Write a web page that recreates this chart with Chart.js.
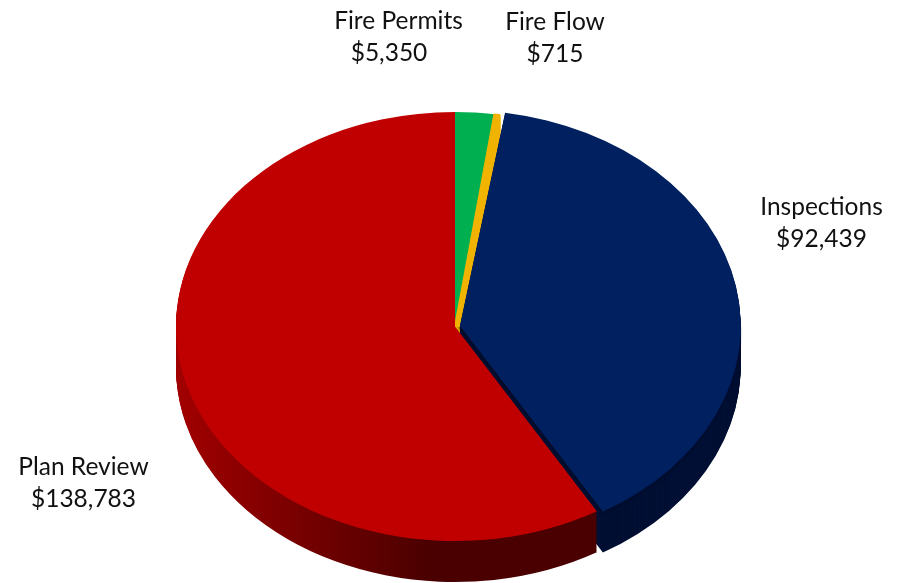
<!DOCTYPE html>
<html>
<head>
<meta charset="utf-8">
<style>
  html, body { margin: 0; padding: 0; background: #fff; }
  canvas { display: block; }
</style>
<script src="https://cdn.jsdelivr.net/npm/chart.js@4/dist/chart.umd.js"></script>
</head>
<body>
<canvas id="chart" width="901" height="583"></canvas>
<script>
const categories = ['Fire Permits', 'Fire Flow', 'Inspections', 'Plan Review'];
const amounts = [5350, 715, 92439, 138783];

const faceColors = ['#00B050', '#F0B400', '#002060', '#C00000'];
const sideColors = ['#006A30', '#8A6600', '#000F33', '#4A0000'];

// the pie is drawn round by Chart.js and squashed here to look tilted
const CENTER_Y = 326.5;
const RADIUS = 279;
const SQUASH = 214.5 / 279;
const DEPTH = 41;
const INSPECTIONS = 2;
const PLAN_REVIEW = 3;

// x centre of each line, y of first baseline, extra x for the second line
const labelPlaces = [
  { x: 398.5, y: 29, shift: -9.5 },
  { x: 555, y: 30, shift: 0 },
  { x: 821.5, y: 215, shift: 0 },
  { x: 83.5, y: 475, shift: 0 },
];

const tiltPie = {
  id: 'tiltPie',
  beforeDatasetsDraw(chart) {
    const { ctx } = chart;
    const arcs = chart.getDatasetMeta(0).data;

    ctx.save();
    ctx.translate(0, CENTER_Y);
    ctx.scale(1, SQUASH);
    ctx.translate(0, -chart.chartArea.top - chart.chartArea.height / 2);

    const redSide = ctx.createLinearGradient(176, 0, 430, 0);
    redSide.addColorStop(0, '#A20000');
    redSide.addColorStop(1, sideColors[PLAN_REVIEW]);

    arcs.forEach((arc, index) => {
      const options = arc.options;
      arc.options = {
        ...options,
        backgroundColor: index === PLAN_REVIEW ? redSide : sideColors[index],
      };
      for (let depth = DEPTH; depth > 0; depth--) {
        ctx.save();
        ctx.translate(0, depth / SQUASH);
        arc.draw(ctx);
        ctx.restore();
      }
      arc.options = options;
    });
  },
  afterDatasetsDraw(chart) {
    const { ctx, chartArea } = chart;
    const arc = chart.getDatasetMeta(0).data[INSPECTIONS];

    // dark edge where the pulled out slice lies over the red one,
    // kept below the centre so the yellow slice stays clean.
    // the 0.5 lands the clip on a whole pixel, otherwise it leaves a seam
    ctx.save();
    ctx.beginPath();
    ctx.rect(0, chartArea.top + chartArea.height / 2 + 0.5 / SQUASH, chart.width, chart.height);
    ctx.clip();
    ctx.shadowColor = 'rgba(0, 12, 40, 0.9)';
    ctx.shadowBlur = 3;
    ctx.shadowOffsetX = -1;
    ctx.shadowOffsetY = 2;
    arc.draw(ctx);
    ctx.restore();

    ctx.restore();
  },
  afterDraw(chart) {
    const { ctx } = chart;
    ctx.save();
    ctx.font = '24.5px Lato, Carlito, sans-serif';
    ctx.fillStyle = '#111';
    ctx.textAlign = 'center';
    categories.forEach((name, index) => {
      const place = labelPlaces[index];
      ctx.fillText(name, place.x, place.y);
      ctx.fillText('$' + amounts[index].toLocaleString('en-US'), place.x + place.shift, place.y + 32);
    });
    ctx.restore();
  },
};

new Chart(document.getElementById('chart'), {
  type: 'pie',
  data: {
    labels: categories,
    datasets: [
      {
        data: amounts,
        backgroundColor: faceColors,
        borderColor: faceColors,
        borderWidth: [0, 2, 0, 0],
        offset: [0, 0, 20, 0],
        clip: false,
      },
    ],
  },
  options: {
    responsive: false,
    animation: false,
    radius: RADIUS,
    layout: {
      padding: { left: 9 },
    },
    plugins: {
      legend: { display: false },
      tooltip: { enabled: false },
    },
  },
  plugins: [tiltPie],
});
</script>
</body>
</html>
